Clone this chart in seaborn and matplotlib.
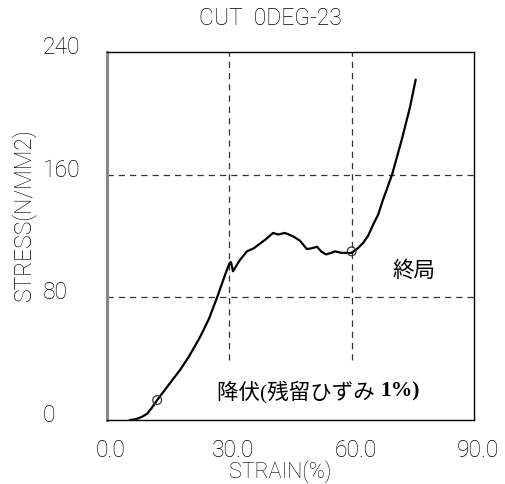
# Stress-strain curve  CUT 0DEG-23

import numpy as np
import pandas as pd
import matplotlib
matplotlib.use("Agg")
import matplotlib.pyplot as plt
import matplotlib.transforms as mtrans
import seaborn as sns

# data
strain = [5.6, 7.0, 8.5, 9.8, 11.0, 12.3, 14.0, 16.0, 18.0, 20.0, 22.8, 25.0, 27.0,
          29.0, 30.0, 30.4, 30.9, 32.5, 34.3, 36.0, 37.5, 39.0, 40.7, 42.0, 43.6,
          45.5, 47.3, 49.0, 50.2, 51.5, 52.5, 53.7, 55.0, 55.9, 57.5, 60.0, 61.5,
          62.8, 64.0, 65.2, 66.5, 67.6, 69.9, 72.3, 74.3, 75.7]
stress = [0, 0.5, 2, 4, 8, 13, 19, 26, 33, 41, 54, 66, 80,
          95, 102, 103, 97, 104, 110, 112, 115, 118, 122, 121, 122,
          120, 117, 111.5, 112, 113, 110, 108, 109, 110, 109, 109, 112,
          115.5, 120, 127, 134, 143, 160, 183, 204, 222]

# yield point and ultimate point
mark_strain = [12.3, 60.0]
mark_stress = [13, 110]

x_ticks = [0, 30, 60, 90]
x_labels = ["0.0", "30.0", "60.0", "90.0"]
y_ticks = [0, 80, 160, 240]
y_labels = ["0", "80", "160", "240"]

curve = pd.DataFrame({"strain": strain, "stress": stress})
marks = pd.DataFrame({"strain": mark_strain, "stress": mark_stress})

sns.set_style("white")
plt.rcParams['font.family'] = ['Roboto', 'DejaVu Sans']
plt.rcParams['font.weight'] = 'light'
plt.rcParams['text.color'] = 'black'
jp_font = ['Liberation Serif', 'Noto Sans CJK JP', 'DejaVu Sans']
fs = 16.5

fig = plt.figure(figsize=(5.05, 4.84), dpi=100)
ax = fig.add_axes([0.2119, 0.1322, 0.7267, 0.7603])

sns.lineplot(data=curve, x="strain", y="stress", color="black", linewidth=1.6,
             estimator=None, ax=ax)
sns.scatterplot(data=marks, x="strain", y="stress", marker="o", s=40,
                facecolor="none", edgecolor="#333333", linewidth=0.9, ax=ax, zorder=5)

ax.set_xlim(0, 90)
ax.set_ylim(0, 240)

# dashed grid
grid_kw = dict(color="#333333", linestyle=(0, (5, 4)), linewidth=0.9, zorder=1)
for gy in [80, 160]:
    ax.axhline(gy, **grid_kw)
for gx in [30, 60]:
    ax.axvline(gx, ymin=39 / 240, ymax=1, **grid_kw)

ax.set_xticks(x_ticks)
ax.set_xticklabels(x_labels, fontsize=fs, fontweight="light", color="black")
ax.set_yticks(y_ticks)
ax.set_yticklabels(y_labels, fontsize=fs, fontweight="light", color="black", ha="left")
ax.tick_params(axis="both", direction="in", length=5, width=1, color="black")
ax.tick_params(axis="y", pad=46)
ax.tick_params(axis="x", pad=14)

for lab in ax.get_yticklabels():
    lab.set_transform(lab.get_transform() + mtrans.ScaledTranslation(0, 0.07, fig.dpi_scale_trans))
for lab in ax.get_xticklabels():
    lab.set_transform(lab.get_transform() + mtrans.ScaledTranslation(0.04, 0, fig.dpi_scale_trans))

for side in ["top", "right", "bottom"]:
    ax.spines[side].set_color("black")
    ax.spines[side].set_linewidth(1.0)
ax.spines["left"].set_color("#888888")
ax.spines["left"].set_linewidth(2.2)

ax.set_xlabel("STRAIN(%)", fontsize=15.5, fontweight="light", color="black")
ax.xaxis.set_label_coords((280 - 107) / 367, (420 - 472) / 368)
ax.set_ylabel("STRESS(N/MM2)", fontsize=fs, fontweight="light", color="black")
ax.yaxis.set_label_coords((24 - 107) / 367, (420 - 215) / 368)
ax.yaxis.label.set_va("center")
ax.xaxis.label.set_va("center")

ax.set_title("CUT  0DEG-23", fontsize=fs, fontweight="light", color="black",
             x=(270 - 107) / 367, y=(420 - 27) / 368, va="center")

ax.text(75.3, 96.5, "終局", family=jp_font, fontsize=15.5, fontweight="normal",
        ha="center", va="center")
t1 = ax.text(27.0, 18.3, "降伏(残留ひずみ ", family=jp_font, fontsize=15.5,
             fontweight="normal", ha="left", va="center")
ax.annotate("1%)", xy=(1, 0.5), xycoords=t1, family=jp_font, fontsize=15.5,
            fontweight="bold", ha="left", va="center")

fig.savefig("out.png", dpi=100)
